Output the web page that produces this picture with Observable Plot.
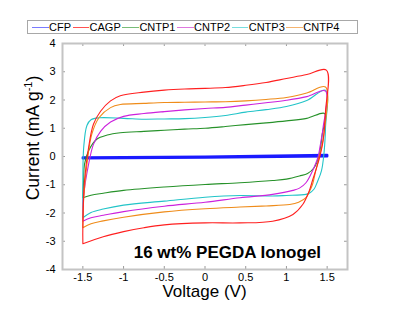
<!DOCTYPE html>
<html><head><meta charset="utf-8">
<script src="https://cdn.jsdelivr.net/npm/d3@7"></script>
<script src="https://cdn.jsdelivr.net/npm/@observablehq/plot@0.6"></script>
<style>
body{margin:0;background:#fff;font-family:"Liberation Sans",Arial,Helvetica,sans-serif;}
#wrap{position:relative;width:410px;height:314px;overflow:hidden;background:#fff;}
#wrap svg{position:absolute;left:0;top:0;display:block;}
#legend{position:absolute;left:27px;top:20px;height:12px;width:325px;border:1px solid #a8a8a8;background:#fff;display:flex;align-items:center;font-size:11px;line-height:12px;padding-left:4px;color:#000;}
.item{display:flex;align-items:center;margin-right:1.6px;white-space:nowrap;}
.sw{width:16.5px;height:1px;margin-right:0.5px;}
</style></head><body><div id="wrap"><div id="legend"></div></div>
<script>
// ---- data ----
const seriesNames = ["CFP", "CAGP", "CNTP1", "CNTP2", "CNTP3", "CNTP4"];
const lineColors = ["#1a1aff", "#ff1f1f", "#27922a", "#cc22dd", "#22c4c8", "#ef8c1a"];
const legendColors = ["#7a7aff", "#ff5252", "#78bc78", "#de78de", "#78dede", "#f5b470"];

const cfpV = [-1.5, 0, 1.5, 1.5, 0, -1.5];
const cfpI = [-0.04, -0.01, 0.05, 0.01, -0.03, -0.06];

const cagpV = [-1.5, -1.5, -1.48, -1.43, -1.37, -1.28, -1.16, -1.04, -0.75, -0.5, -0.25, 0, 0.25, 0.5, 0.75, 1.0, 1.25, 1.49, 1.48, 1.45, 1.41, 1.37, 1.32, 1.28, 1.2, 1.08, 0.83, 0.43, 0, -0.5, -0.75, -1.0, -1.25, -1.5];
const cagpI = [-3.09, -2.45, -0.87, 0.31, 1.14, 1.61, 1.97, 2.15, 2.28, 2.35, 2.39, 2.41, 2.44, 2.52, 2.62, 2.76, 2.9, 3.06, 1.6, 0.55, 0.0, -0.4, -0.85, -1.22, -1.7, -2.05, -2.29, -2.35, -2.35, -2.42, -2.52, -2.66, -2.84, -3.09];

const cntp1V = [-1.5, -1.49, -1.48, -1.43, -1.33, -1.2, -1.04, -0.75, -0.5, -0.25, 0, 0.25, 0.5, 0.75, 1.0, 1.25, 1.47, 1.44, 1.40, 1.34, 1.26, 1.16, 1.0, 0.83, 0.43, 0, -0.5, -1.0, -1.25, -1.4, -1.5];
const cntp1I = [-1.46, -0.8, -0.28, 0.2, 0.61, 0.76, 0.84, 0.89, 0.93, 0.97, 1.0, 1.06, 1.13, 1.19, 1.26, 1.35, 1.52, 0.79, 0.02, -0.4, -0.6, -0.69, -0.8, -0.85, -0.93, -0.99, -1.08, -1.2, -1.3, -1.37, -1.46];

const cntp2V = [-1.5, -1.49, -1.43, -1.37, -1.28, -1.16, -1.0, -0.75, -0.5, -0.25, 0, 0.25, 0.5, 0.75, 1.0, 1.25, 1.48, 1.45, 1.41, 1.39, 1.32, 1.24, 1.16, 1.08, 0.83, 0.43, 0, -0.5, -1.0, -1.25, -1.4, -1.5];
const cntp2I = [-2.29, -1.4, -0.28, 0.43, 0.9, 1.22, 1.42, 1.52, 1.59, 1.65, 1.70, 1.74, 1.82, 1.9, 1.99, 2.12, 2.32, 1.02, 0.31, 0.0, -0.51, -0.93, -1.12, -1.2, -1.34, -1.46, -1.62, -1.76, -1.95, -2.08, -2.17, -2.29];

const cntp3V = [-1.5, -1.5, -1.49, -1.45, -1.4, -1.3, -1.0, -0.75, -0.5, -0.25, 0, 0.25, 0.5, 0.75, 1.0, 1.25, 1.48, 1.48, 1.46, 1.43, 1.38, 1.34, 1.28, 1.24, 1.0, 0.83, 0.43, 0, -0.5, -1.0, -1.25, -1.4, -1.5];
const cntp3I = [-2.17, -0.87, 0.31, 1.1, 1.3, 1.37, 1.35, 1.32, 1.33, 1.34, 1.38, 1.45, 1.57, 1.66, 1.77, 1.98, 2.35, 1.02, 0.08, -0.51, -0.9, -1.15, -1.3, -1.34, -1.38, -1.4, -1.38, -1.44, -1.58, -1.72, -1.86, -1.98, -2.17];

const cntp4V = [-1.5, -1.49, -1.45, -1.39, -1.3, -1.16, -1.04, -0.75, -0.5, -0.25, 0, 0.25, 0.5, 0.75, 1.0, 1.25, 1.48, 1.47, 1.43, 1.39, 1.36, 1.32, 1.28, 1.24, 1.15, 1.04, 0.75, 0.43, 0, -0.5, -1.0, -1.25, -1.4, -1.5];
const cntp4I = [-2.52, -1.5, -0.28, 0.79, 1.38, 1.73, 1.84, 1.88, 1.91, 1.92, 1.93, 1.94, 1.97, 2.02, 2.09, 2.25, 2.46, 1.02, 0.31, -0.16, -0.5, -0.99, -1.25, -1.46, -1.62, -1.7, -1.75, -1.79, -1.85, -1.96, -2.15, -2.28, -2.38, -2.52];

const xTicks = [-1.5, -1, -0.5, 0, 0.5, 1, 1.5];
const yTicks = [-4, -3, -2, -1, 0, 1, 2, 3, 4];
const xTitle = "Voltage (V)";
const yTitle = "Current (mA g";
const yTitleSup = "-1";
const annotations = [{text: "16 wt% PEGDA Ionogel", x: 0.275, y: -3.41}];

// ---- build ----
function rows(name, V, I) { return V.map((v, k) => ({s: name, v, i: I[k]})); }
const blueData = rows("CFP", cfpV, cfpI);
const others = [].concat(
  rows("CNTP1", cntp1V, cntp1I),
  rows("CNTP3", cntp3V, cntp3I),
  rows("CNTP2", cntp2V, cntp2I),
  rows("CNTP4", cntp4V, cntp4I),
  rows("CAGP", cagpV, cagpI)
);

const W = 410, H = 314, mT = 43, mR = 63, mB = 45, mL = 62;
const fw = W - mL - mR, fh = H - mT - mB;
const font = '"Liberation Sans", Arial, Helvetica, sans-serif';

const chart = Plot.plot({
  width: W, height: H,
  marginTop: mT, marginRight: mR, marginBottom: mB, marginLeft: mL,
  style: {fontFamily: font, fontSize: "11px", color: "#000", background: "transparent"},
  x: {domain: [-1.75, 1.75]},
  y: {domain: [-4, 4]},
  color: {domain: seriesNames, range: lineColors},
  marks: [
    Plot.ruleX(xTicks, {stroke: "#9a9a9a", insetTop: fh - 3}),
    Plot.ruleX(xTicks, {stroke: "#9a9a9a", insetBottom: fh - 3}),
    Plot.ruleY(yTicks, {stroke: "#9a9a9a", insetRight: fw - 3}),
    Plot.ruleY(yTicks, {stroke: "#9a9a9a", insetLeft: fw - 3}),
    Plot.frame({stroke: "#c4c4c4", strokeWidth: 2}),
    Plot.axisX(xTicks, {tickSize: 0, tickPadding: 3.5, label: null, tickFormat: d => String(d)}),
    Plot.axisY(yTicks, {tickSize: 0, tickPadding: 7, label: null, tickFormat: d => String(d)}),
    Plot.line(blueData, {x: "v", y: "i", z: "s", stroke: "s", strokeWidth: 2.6}),
    Plot.line(others, {x: "v", y: "i", z: "s", stroke: "s", strokeWidth: 1.1, curve: "catmull-rom"}),
    Plot.text(annotations, {x: "x", y: "y", text: "text", fontSize: 17, fontWeight: "bold", textAnchor: "middle", fill: "#000"})
  ]
});

const wrap = document.getElementById("wrap");
wrap.insertBefore(chart, wrap.firstChild);

const svg = d3.select(chart);
svg.append("text").attr("x", 204.5).attr("y", 297).attr("text-anchor", "middle")
  .attr("font-size", 17).attr("font-family", font).attr("fill", "#000").text(xTitle);
const yt = svg.append("text").attr("transform", "translate(39.3,138) rotate(-90)")
  .attr("text-anchor", "middle").attr("font-size", 17.5).attr("font-family", font).attr("fill", "#000");
yt.append("tspan").text(yTitle);
yt.append("tspan").attr("font-size", 11).attr("dy", -7).text(yTitleSup);
yt.append("tspan").attr("dy", 7).text(")");

const legend = d3.select("#legend");
seriesNames.forEach((n, k) => {
  const it = legend.append("div").attr("class", "item");
  it.append("div").attr("class", "sw").style("background-color", legendColors[k]);
  it.append("span").text(n);
});
</script>
</body></html>
